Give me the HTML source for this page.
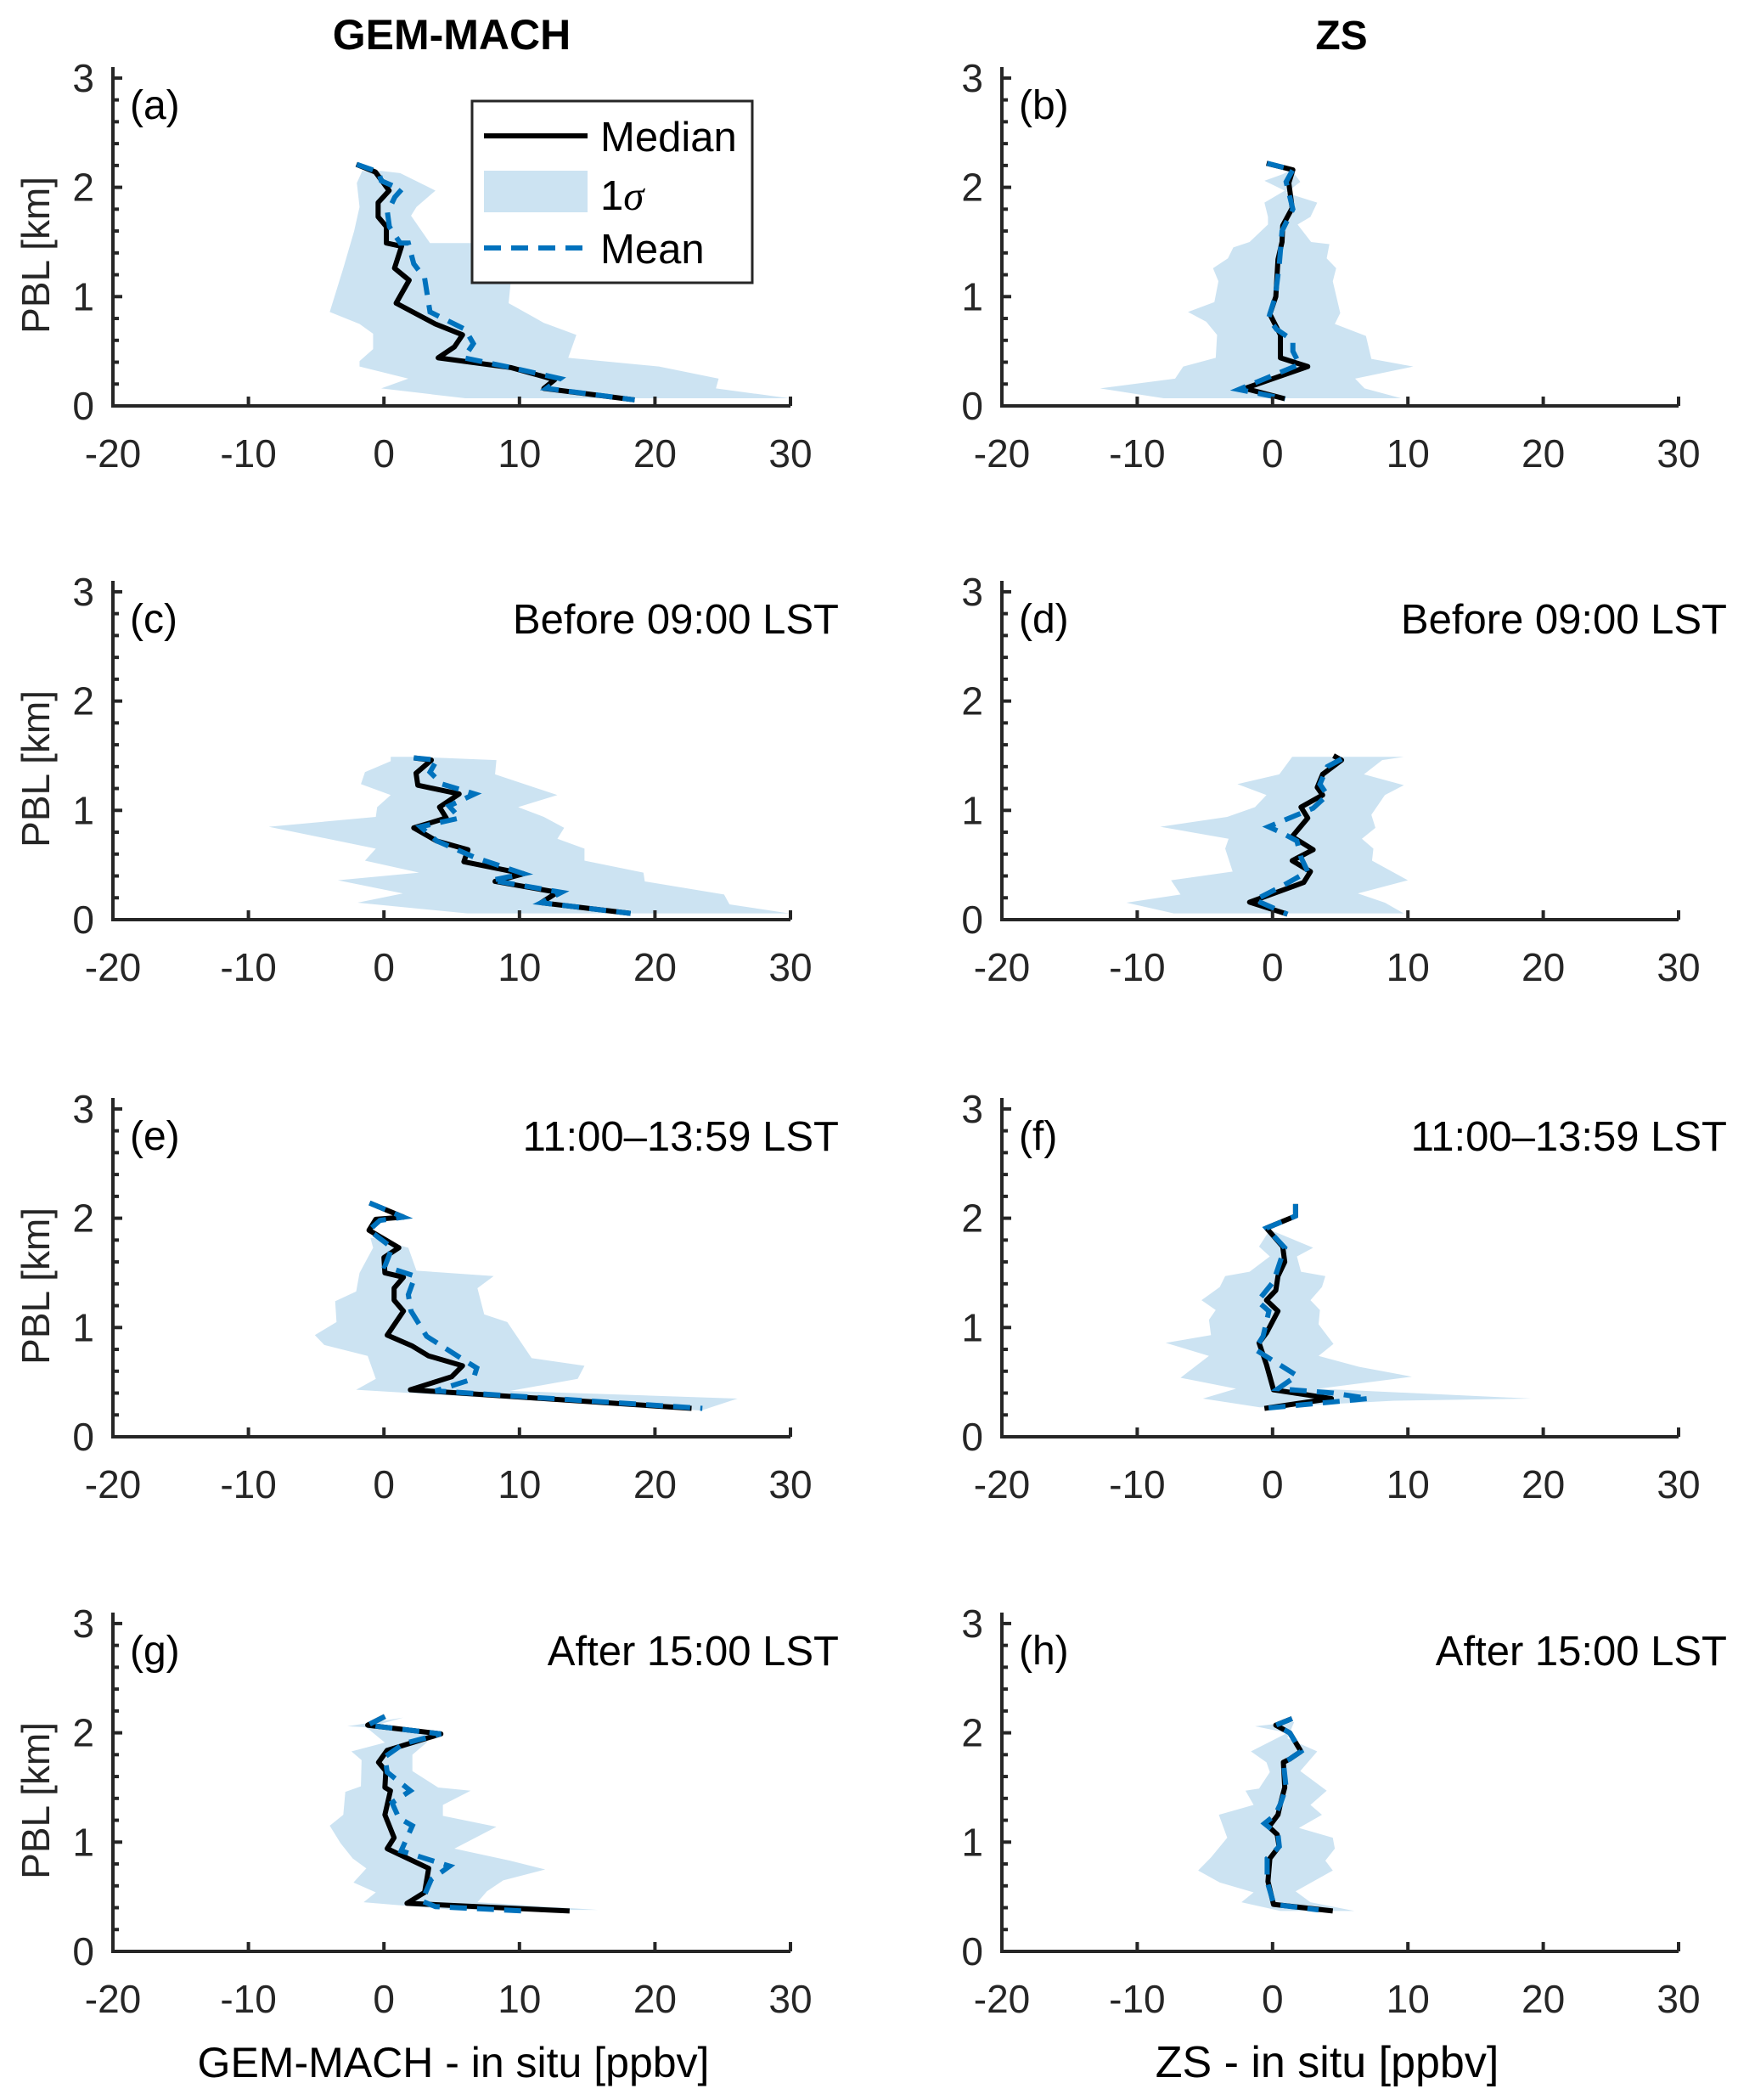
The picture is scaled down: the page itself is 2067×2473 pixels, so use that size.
<!DOCTYPE html>
<html><head><meta charset="utf-8"><title>GEM-MACH and ZS minus in situ profiles against PBL height</title>
<style>
html,body{margin:0;padding:0;background:#fff;}
svg{display:block;font-family:"Liberation Sans",Arial,sans-serif;}
</style></head>
<body>
<svg id="fig" xmlns="http://www.w3.org/2000/svg" width="2067" height="2473" viewBox="0 0 2067 2473">
<rect width="2067" height="2473" fill="#fff"/>
<text x="532" y="58" font-size="50" font-weight="bold" text-anchor="middle">GEM-MACH</text>
<text x="1580" y="58" font-size="48" font-weight="bold" text-anchor="middle">ZS</text>
<text x="534" y="2446" font-size="50" text-anchor="middle">GEM-MACH - in situ [ppbv]</text>
<text x="1563" y="2446" font-size="52" text-anchor="middle">ZS - in situ [ppbv]</text>
<g id="panels"></g>
<g>
<rect x="556" y="119" width="330" height="214" fill="#fff" stroke="#262626" stroke-width="3"/>
<line x1="570" y1="160" x2="692" y2="160" stroke="#000" stroke-width="6"/>
<text x="707" y="178" font-size="49">Median</text>
<rect x="570" y="201" width="122" height="49" fill="#cce3f2"/>
<text x="707" y="247" font-size="49">1<tspan font-family="Liberation Serif, serif" font-style="italic">σ</tspan></text>
<line x1="570" y1="292" x2="692" y2="292" stroke="#0072bd" stroke-width="6" stroke-dasharray="20 12"/>
<text x="707" y="310" font-size="49">Mean</text>
</g>
</svg>
<script>
// x ticks and y ticks
const xTicks = [-20, -10, 0, 10, 20, 30];
const xTickLabels = ["-20", "-10", "0", "10", "20", "30"];
const yTicks = [0, 1, 2, 3];
const yTickLabels = ["0", "1", "2", "3"];
const panelLetters = ["(a)", "(b)", "(c)", "(d)", "(e)", "(f)", "(g)", "(h)"];
const panelNotes = ["", "", "Before 09:00 LST", "Before 09:00 LST", "11:00\u201313:59 LST", "11:00\u201313:59 LST", "After 15:00 LST", "After 15:00 LST"];

// panel (a)
const aMedian = [[-2.03,2.21],[-0.63,2.14],[0.38,1.97],[-0.43,1.86],[-0.43,1.73],[0.18,1.64],[0.18,1.49],[1.3,1.46],[0.78,1.26],[1.86,1.15],[0.9,0.94],[3.79,0.75],[5.8,0.65],[5.2,0.54],[4.0,0.44],[9.4,0.35],[12.6,0.24],[11.8,0.16],[18.5,0.055]];
const aMean = [[-2.0,2.21],[-0.4,2.14],[-0.2,2.06],[1.3,1.98],[0.8,1.91],[0.26,1.77],[0.4,1.64],[1.2,1.49],[1.8,1.49],[2.2,1.3],[3.0,1.17],[3.4,0.86],[6.0,0.7],[6.6,0.57],[5.9,0.44],[9.4,0.35],[13.0,0.25],[12.0,0.16],[18.5,0.055]];
const aUpper = [[-0.23,2.15],[1.2,2.13],[3.8,1.97],[2.4,1.82],[2.0,1.74],[3.4,1.49],[7.0,1.49],[9.4,1.19],[9.2,0.94],[11.8,0.76],[14.2,0.65],[13.6,0.44],[20.3,0.36],[24.7,0.25],[24.5,0.16],[29.9,0.07]];
const aLower = [[-1.6,2.15],[-2.0,2.04],[-1.8,1.82],[-2.2,1.6],[-3.0,1.26],[-4.0,0.86],[-1.8,0.75],[-0.8,0.66],[-0.8,0.52],[-1.8,0.41],[-1.8,0.36],[1.8,0.25],[-0.2,0.16],[6.0,0.07]];
// panel (b)
const bMedian = [[-0.44,2.22],[1.5,2.16],[1.2,2.04],[1.45,1.81],[0.75,1.65],[0.7,1.5],[0.4,1.34],[0.24,1.0],[-0.2,0.84],[0.58,0.65],[0.58,0.44],[2.6,0.36],[-2.05,0.16],[0.92,0.065]];
const bMean = [[-0.4,2.22],[1.5,2.16],[1.0,2.05],[1.5,1.8],[0.7,1.6],[0.5,1.3],[0.2,1.0],[-0.3,0.8],[0.3,0.7],[1.5,0.6],[1.5,0.5],[2.0,0.38],[-2.5,0.15],[0.92,0.065]];
const bUpper = [[1.4,2.16],[2.05,2.05],[1.0,1.95],[3.3,1.86],[2.8,1.73],[1.85,1.66],[2.85,1.5],[4.2,1.48],[4.0,1.35],[4.7,1.26],[4.45,1.14],[5.0,0.85],[4.6,0.75],[6.9,0.64],[7.3,0.43],[10.4,0.36],[6.1,0.25],[6.8,0.16],[9.5,0.07]];
const bLower = [[0.75,2.12],[-0.6,2.06],[0.9,1.97],[-0.6,1.86],[-0.34,1.73],[-0.34,1.66],[-1.7,1.5],[-2.9,1.45],[-3.3,1.35],[-4.4,1.26],[-4.0,1.14],[-4.3,0.95],[-6.25,0.86],[-4.9,0.77],[-4.1,0.65],[-4.2,0.44],[-6.6,0.36],[-7.2,0.25],[-12.75,0.16],[-8.05,0.07]];
// panel (c)
const cMedian = [[2.2,1.48],[3.5,1.46],[2.37,1.34],[2.5,1.23],[5.55,1.15],[4.1,1.03],[4.6,0.93],[2.2,0.84],[3.9,0.72],[6.2,0.64],[5.9,0.53],[10.3,0.42],[8.2,0.35],[12.8,0.25],[11.6,0.155],[18.2,0.057]];
const cMean = [[2.2,1.48],[3.9,1.46],[3.4,1.35],[4.3,1.24],[6.7,1.15],[4.8,1.04],[5.6,0.93],[2.7,0.85],[3.9,0.72],[6.7,0.57],[10.3,0.42],[7.95,0.36],[13.1,0.25],[11.6,0.155],[18.2,0.057]];
const cUpper = [[2.2,1.49],[8.3,1.46],[8.2,1.33],[12.8,1.14],[9.9,1.03],[11.8,0.94],[13.3,0.84],[12.8,0.74],[14.8,0.65],[14.8,0.54],[19.15,0.43],[19.25,0.35],[25.1,0.23],[25.5,0.14],[29.9,0.057]];
const cLower = [[0.5,1.49],[0.5,1.45],[-1.4,1.35],[-1.7,1.24],[0.5,1.14],[-0.5,1.03],[-0.6,0.94],[-8.5,0.85],[-0.6,0.65],[-1.4,0.54],[2.6,0.43],[-3.4,0.36],[1.4,0.24],[-1.95,0.155],[6.15,0.057]];
// panel (d)
const dMedian = [[4.5,1.5],[5.1,1.46],[3.7,1.33],[3.3,1.21],[3.7,1.14],[2.1,1.03],[2.6,0.93],[1.45,0.76],[3.0,0.64],[1.45,0.54],[2.8,0.44],[2.3,0.34],[-1.7,0.16],[1.1,0.05]];
const dMean = [[5.1,1.47],[4.05,1.4],[3.5,1.24],[4.05,1.14],[3.0,1.02],[-0.3,0.85],[0.75,0.79],[1.8,0.72],[2.1,0.57],[2.6,0.44],[0.75,0.31],[-1.3,0.18],[1.1,0.05]];
const dUpper = [[9.7,1.49],[8.1,1.46],[6.75,1.33],[9.7,1.23],[8.3,1.14],[7.3,0.96],[7.6,0.84],[6.6,0.74],[7.45,0.65],[7.35,0.54],[10.0,0.36],[6.3,0.24],[8.3,0.155],[9.7,0.057]];
const dLower = [[1.45,1.49],[0.5,1.33],[-2.6,1.24],[-0.45,1.14],[-1.3,1.03],[-3.35,0.94],[-8.3,0.85],[-3.25,0.74],[-3.5,0.65],[-2.95,0.44],[-7.5,0.36],[-6.8,0.23],[-10.8,0.155],[-7.3,0.057]];
// panel (e)
const eMedian = [[-1.06,2.14],[1.44,2.01],[-0.6,1.99],[-1.1,1.89],[1.1,1.73],[0,1.64],[0.07,1.5],[1.44,1.46],[0.75,1.36],[0.75,1.25],[1.44,1.15],[0.24,0.93],[2.1,0.83],[3.3,0.74],[5.8,0.65],[5.0,0.55],[1.95,0.43],[22.7,0.26]];
const eMean = [[-1.06,2.14],[1.44,2.01],[-0.3,1.98],[-1.1,1.89],[0.6,1.73],[0.07,1.56],[2.3,1.47],[1.8,1.3],[2.0,1.15],[3.15,0.92],[5.8,0.71],[6.85,0.63],[6.6,0.53],[3.8,0.42],[23.5,0.26]];
const eUpper = [[-0.8,1.82],[1.8,1.73],[2.4,1.52],[8.1,1.47],[6.9,1.36],[7.4,1.12],[9.1,1.05],[10.9,0.72],[14.8,0.65],[14.3,0.53],[9.3,0.42],[26.1,0.35],[23.4,0.24]];
const eLower = [[-1.0,1.82],[-0.8,1.73],[-1.8,1.5],[-2.05,1.33],[-3.6,1.24],[-3.5,1.05],[-5.1,0.93],[-4.4,0.84],[-1.2,0.74],[-0.6,0.53],[-2.05,0.43],[22.3,0.25]];
// panel (f)
const fMedian = [[1.7,2.13],[1.7,2.02],[-0.45,1.91],[0.75,1.74],[0.9,1.6],[0.4,1.47],[0.24,1.34],[-0.45,1.25],[0.4,1.15],[-0.45,0.95],[-1.0,0.86],[-0.45,0.66],[0.07,0.43],[4.35,0.35],[-0.6,0.26]];
const fMean = [[1.7,2.13],[1.7,2.02],[-0.45,1.91],[0.9,1.73],[0.07,1.42],[-1.1,1.24],[-0.27,1.15],[-0.7,0.92],[-1.3,0.8],[1.8,0.56],[0.4,0.44],[4.5,0.4],[7.1,0.35],[-0.6,0.26]];
const fUpper = [[0.07,1.88],[3.0,1.73],[1.8,1.65],[2.1,1.51],[3.9,1.47],[3.65,1.37],[2.8,1.25],[3.5,1.16],[3.4,1.03],[4.5,0.85],[3.4,0.74],[6.4,0.64],[10.3,0.55],[3.4,0.44],[19.1,0.35],[9.0,0.33],[-0.27,0.27]];
const fLower = [[-0.27,1.88],[-1.0,1.74],[-0.2,1.65],[-1.7,1.51],[-3.5,1.47],[-3.9,1.37],[-5.25,1.25],[-4.2,1.16],[-4.7,1.07],[-4.55,0.93],[-7.9,0.86],[-4.7,0.74],[-6.8,0.54],[-2.7,0.44],[-5.15,0.35],[-0.96,0.27]];
// panel (g)
const gMedian = [[0.07,2.15],[-1.2,2.07],[4.2,1.99],[0.24,1.84],[-0.4,1.73],[0.14,1.65],[0.07,1.5],[0.48,1.47],[0.07,1.25],[0.75,1.04],[0.24,0.94],[3.3,0.76],[3.0,0.54],[1.7,0.44],[13.7,0.37]];
const gMean = [[0.07,2.15],[-1.2,2.07],[4.2,1.99],[1.44,1.9],[0.07,1.78],[0.24,1.64],[1.95,1.47],[0.6,1.36],[1.1,1.22],[2.1,1.15],[1.27,0.92],[4.85,0.78],[3.5,0.66],[2.8,0.46],[3.8,0.41],[10.3,0.37]];
const gUpper = [[1.44,2.14],[-0.27,2.08],[3.5,1.99],[3.15,1.91],[2.1,1.8],[2.1,1.65],[4.0,1.5],[6.4,1.47],[4.35,1.34],[4.35,1.24],[8.3,1.14],[5.2,0.94],[9.3,0.83],[11.9,0.75],[8.8,0.65],[7.6,0.55],[6.9,0.45],[15.8,0.38]];
const gLower = [[-2.7,2.06],[-1.3,2.05],[0.07,1.91],[-2.4,1.83],[-1.65,1.75],[-1.7,1.51],[-2.85,1.46],[-3.0,1.25],[-4.0,1.15],[-3.2,0.99],[-2.3,0.85],[-1.3,0.76],[-2.25,0.63],[-0.6,0.54],[-1.5,0.45],[5.2,0.38]];
// panel (h)
const hMedian = [[1.44,2.13],[0.24,2.07],[1.27,2.0],[2.1,1.83],[1.27,1.76],[0.8,1.73],[0.9,1.5],[0.58,1.35],[0.4,1.25],[-0.27,1.14],[0.34,1.07],[0.48,0.96],[-0.2,0.85],[-0.34,0.64],[0.07,0.43],[4.45,0.37]];
const hMean = [[1.44,2.13],[0.24,2.07],[1.27,2.0],[2.1,1.83],[1.27,1.76],[0.8,1.73],[1.0,1.5],[0.58,1.35],[0.2,1.25],[-0.6,1.17],[0.4,1.07],[0.5,0.96],[-0.4,0.85],[-0.4,0.64],[0.1,0.43],[3.4,0.38]];
const hUpper = [[1.6,2.1],[1.1,1.95],[3.3,1.83],[2.05,1.65],[4.0,1.47],[2.8,1.34],[3.65,1.25],[1.95,1.13],[4.45,1.04],[4.6,0.94],[3.9,0.83],[4.45,0.74],[1.7,0.55],[2.8,0.45],[6.05,0.37]];
const hLower = [[-1.3,2.06],[1.1,2.0],[-1.6,1.83],[-0.45,1.73],[-0.2,1.64],[-1.0,1.49],[-2.0,1.47],[-1.4,1.34],[-3.97,1.25],[-3.35,1.04],[-4.55,0.86],[-5.5,0.74],[-3.9,0.63],[-1.4,0.54],[-2.3,0.45],[0.58,0.37]];

const medians = [aMedian,bMedian,cMedian,dMedian,eMedian,fMedian,gMedian,hMedian];
const means = [aMean,bMean,cMean,dMean,eMean,fMean,gMean,hMean];
const uppers = [aUpper,bUpper,cUpper,dUpper,eUpper,fUpper,gUpper,hUpper];
const lowers = [aLower,bLower,cLower,dLower,eLower,fLower,gLower,hLower];

const NS = "http://www.w3.org/2000/svg";
const colLeft = [133, 1180], colRight = [931, 1977];
const rowBase = [478, 1083, 1692, 2298];
const unitY = 128.7;
const root = document.getElementById("panels");
function mk(tag, attrs, parent){ const e=document.createElementNS(NS,tag); for(const k in attrs) e.setAttribute(k,attrs[k]); parent.appendChild(e); return e; }

for (let p=0;p<8;p++){
  const col=p%2, row=Math.floor(p/2);
  const x0=colLeft[col], x1=colRight[col], y0=rowBase[row];
  const sx = v => x0 + (v+20)/50*(x1-x0);
  const sy = v => y0 - v*unitY;
  const g = mk("g",{},root);
  
  
  const up=uppers[p], lo=lowers[p];
  const pts = up.map(d=>sx(d[0])+","+sy(d[1])).concat(lo.slice().reverse().map(d=>sx(d[0])+","+sy(d[1])));
  const band = mk("polygon",{points:pts.join(" "),fill:"#cce3f2",stroke:"none"},g);
  
  
  const med = mk("polyline",{points:medians[p].map(d=>sx(d[0])+","+sy(d[1])).join(" "),fill:"none",stroke:"#000","stroke-width":6,"stroke-linejoin":"round"},g);
  
  
  const mn = mk("polyline",{points:means[p].map(d=>sx(d[0])+","+sy(d[1])).join(" "),fill:"none",stroke:"#0072bd","stroke-width":6,"stroke-dasharray":"20 12"},g);
  
  
  const ax = mk("path",{d:`M${x0},${sy(3.1)} L${x0},${y0} L${x1},${y0}`,fill:"none",stroke:"#262626","stroke-width":4},g);
  
  
  for (let i=0;i<xTicks.length;i++){
    const x=sx(xTicks[i]);
    mk("line",{x1:x,y1:y0,x2:x,y2:y0-11,stroke:"#262626","stroke-width":4},g);
    const t=mk("text",{x:x,y:y0+72,"font-size":46,"text-anchor":"middle",fill:"#262626"},g);
    t.textContent=xTickLabels[i];
    
    
  }
  for (let k=1;k<=15;k++){
    const y=sy(k*0.2);
    if (k%5!==0) mk("line",{x1:x0,y1:y,x2:x0+7,y2:y,stroke:"#262626","stroke-width":4},g);
  }
  for (let i=0;i<yTicks.length;i++){
    const y=sy(yTicks[i]);
    mk("line",{x1:x0,y1:y,x2:x0+11,y2:y,stroke:"#262626","stroke-width":4},g);
    const t=mk("text",{x:x0-22,y:y+16,"font-size":46,"text-anchor":"end",fill:"#262626"},g);
    t.textContent=yTickLabels[i];
    
    
  }
  if (col===0){
    const yl=mk("text",{x:0,y:0,"font-size":46,"text-anchor":"middle",fill:"#262626",transform:`translate(58,${sy(1.38)}) rotate(-90)`},g);
    yl.textContent="PBL [km]";
    
    
  }
  const lt=mk("text",{x:x0+20,y:y0-338,"font-size":48,fill:"#000"},g);
  lt.textContent=panelLetters[p];
  
  
  if (panelNotes[p]){
    const nt=mk("text",{x:x1+57,y:y0-337,"font-size":49,"text-anchor":"end",fill:"#000"},g);
    nt.textContent=panelNotes[p];
    
    
  }
}
</script>
</body></html>
